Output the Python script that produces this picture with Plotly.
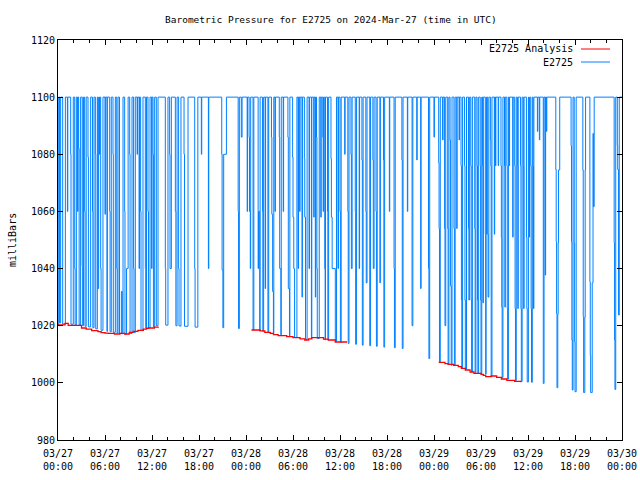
import plotly.graph_objects as go
import pandas as pd

# ---------------- data (hours after 2024-03-27 00:00 UTC, millibars) ----------------
analysis_hours = [0.0, 0.9, 1.3, 3.0, 3.6, 4.3, 5.1, 5.5, 6.0, 6.4, 7.2, 7.9, 8.5, 9.1, 9.6, 10.2, 10.9, 11.3, 11.5, 12.3, 12.8,
                  None,
                  24.7, 25.8, 26.4, 27.1, 27.5, 28.1, 29.2, 30.0, 30.9, 31.5, 32.0, 32.4, 33.9, 34.5, 35.4, 36.9,
                  None,
                  48.6, 49.4, 49.8, 50.5, 51.1, 51.5, 52.0, 52.6, 53.1, 54.0, 54.3, 54.6, 55.3, 56.0, 56.6, 57.3, 58.3, 59.1, 60.7]
analysis_mb = [1020.3, 1020.8, 1020.1, 1019.2, 1018.8, 1018.3, 1017.9, 1017.6, 1017.4, 1017.3, 1017.1, 1017.3, 1017.1, 1017.7, 1018.0,
               1018.4, 1018.8, 1019.1, 1019.2, 1019.5, 1019.6,
               None,
               1018.5, 1018.2, 1017.7, 1017.3, 1016.9, 1016.5, 1016.2, 1015.8, 1015.4, 1015.0, 1015.4, 1015.8, 1015.3, 1015.0, 1014.3, 1014.3,
               None,
               1007.2, 1006.7, 1006.5, 1006.1, 1005.7, 1005.1, 1004.5, 1003.8, 1003.3, 1003.0, 1002.6, 1002.2, 1002.4, 1001.9, 1001.35,
               1000.9, 1000.5, 1000.2]

# station series, as (hour, value) steps
blue_day1_am = [
    (0.00, 1020.4), (0.09, 1100), (0.20, 1021.0), (0.34, 1100), (0.60, 1020.6), (0.94, 1100),
    (1.20, 1060), (1.25, 1100), (1.62, 1080), (1.66, 1020.5), (1.95, 1100),
    (2.13, 1040), (2.18, 1020.3), (2.34, 1100), (2.50, 1060), (2.55, 1100), (2.64, 1082), (2.70, 1020.2), (2.89, 1100),
    (3.10, 1041), (3.15, 1020.0), (3.25, 1100), (3.40, 1060), (3.45, 1019.8), (3.60, 1100), (3.83, 1079), (3.88, 1019.6),
    (4.17, 1100), (4.40, 1060), (4.45, 1019.3), (4.60, 1100), (4.77, 1080), (4.82, 1018.9), (5.02, 1100), (5.10, 1033),
    (5.19, 1100), (5.30, 1080), (5.35, 1100), (5.45, 1040), (5.50, 1018.4), (5.74, 1100), (6.00, 1059), (6.05, 1100),
    (6.25, 1018.0), (6.30, 1100), (6.60, 1060), (6.65, 1017.9), (6.80, 1100), (7.02, 1080), (7.06, 1017.7), (7.32, 1100),
    (7.50, 1040), (7.55, 1017.4), (7.66, 1100), (7.85, 1017.3), (8.09, 1032), (8.20, 1017.2), (8.30, 1100),
    (8.51, 1060), (8.55, 1017.1), (8.75, 1040), (8.95, 1100), (9.15, 1080), (9.20, 1017.3), (9.45, 1100), (9.65, 1040),
    (9.70, 1017.6), (9.87, 1100), (10.10, 1080), (10.15, 1100), (10.35, 1040), (10.40, 1100), (10.55, 1060),
    (10.60, 1018.4), (10.85, 1100), (11.15, 1040), (11.20, 1019.0), (11.30, 1100), (11.49, 1060), (11.55, 1019.2),
    (11.75, 1100), (11.95, 1040), (12.00, 1100), (12.13, 1080), (12.18, 1019.6), (12.34, 1100), (12.55, 1020.0),
    (12.77, 1100),
]
blue_day1_pm = [
    (13.70, 1040), (13.75, 1020.2), (14.04, 1100), (14.25, 1080), (14.30, 1040), (14.47, 1100), (14.98, 1060),
    (15.05, 1020.0), (15.20, 1100), (15.40, 1040), (15.45, 1019.9), (15.70, 1100), (16.09, 1080), (16.15, 1019.8), (16.60, 1100),
    (17.45, 1040), (17.50, 1019.5), (17.85, 1100), (18.30, 1080), (18.35, 1100), (19.20, 1040),
    (19.25, 1100), (20.90, 1080), (20.95, 1039.5), (21.05, 1019.3), (21.15, 1080), (21.50, 1100),
    (23.00, 1060), (23.05, 1019.0), (23.15, 1100), (23.40, 1086), (23.50, 1100),
]
blue_day2_am = [
    (24.15, 1060), (24.20, 1100),
    (24.40, 1086), (24.45, 1060), (24.55, 1040), (24.60, 1100), (24.90, 1018.5), (25.00, 1100), (25.55, 1040),
    (25.60, 1060), (25.75, 1018.2), (25.80, 1100), (26.10, 1060), (26.15, 1018.0), (26.25, 1100),
    (26.45, 1033), (26.50, 1100), (26.80, 1017.7), (26.90, 1100),
    (27.25, 1086), (27.30, 1059), (27.40, 1032), (27.50, 1017.3), (27.55, 1100), (27.70, 1060), (27.75, 1100),
    (28.25, 1086), (28.30, 1040), (28.45, 1016.8), (28.50, 1100), (28.75, 1060), (28.80, 1100), (29.35, 1086),
    (29.40, 1033), (29.55, 1016.3), (29.60, 1100), (29.95, 1079), (30.00, 1058), (30.10, 1040), (30.20, 1015.9),
    (30.50, 1100), (30.65, 1040), (30.70, 1100), (30.85, 1060), (30.90, 1100), (31.15, 1030), (31.20, 1100),
    (31.45, 1078.5), (31.50, 1058),
    (31.60, 1015.2), (31.80, 1100), (32.05, 1040), (32.10, 1100), (32.35, 1015.5), (32.40, 1100), (32.65, 1058),
    (32.70, 1100), (32.85, 1030), (32.90, 1100), (33.00, 1086), (33.05, 1040), (33.10, 1015.5), (33.35, 1100),
    (33.55, 1058), (33.60, 1100), (33.80, 1086), (33.85, 1060), (33.90, 1100),
    (34.05, 1040), (34.10, 1015.0), (34.15, 1100), (34.40, 1060), (34.45, 1015.0), (34.55, 1100),
    (34.85, 1078.5), (34.90, 1058), (35.00, 1040), (35.40, 1014.5),
    (35.55, 1100), (35.75, 1040), (35.80, 1100), (36.00, 1060), (36.05, 1014.2), (36.15, 1100), (36.60, 1080), (36.65, 1100),
]
blue_day2_pm = [
    (37.00, 1060), (37.05, 1013.8), (37.15, 1100), (37.40, 1080), (37.45, 1040), (37.55, 1100), (37.95, 1060),
    (38.00, 1013.5), (38.10, 1100), (38.45, 1040), (38.50, 1100), (38.80, 1078), (38.85, 1013.2), (38.95, 1100),
    (39.30, 1060), (39.35, 1035), (39.45, 1100), (39.80, 1013.0), (39.90, 1100), (40.20, 1078), (40.25, 1040),
    (40.35, 1100), (40.60, 1060), (40.65, 1012.8), (40.75, 1100), (41.10, 1035), (41.15, 1100), (41.55, 1078),
    (41.60, 1012.5), (41.70, 1100), (42.30, 1060), (42.35, 1100), (42.90, 1040), (42.95, 1012.3), (43.05, 1100),
    (43.90, 1078), (43.95, 1012.0), (44.05, 1100), (44.60, 1060), (44.65, 1100), (45.20, 1020), (45.30, 1100),
    (45.80, 1078), (45.85, 1100), (46.30, 1033), (46.35, 1100), (47.30, 1040), (47.35, 1008.5), (47.45, 1100),
    (48.00, 1086), (48.05, 1100),
]
blue_day3_am = [
    (48.60, 1077), (48.65, 1054), (48.70, 1007.2), (48.80, 1100), (49.10, 1085), (49.15, 1100),
    (49.35, 1054), (49.40, 1020), (49.50, 1100),
    (49.75, 1054), (49.80, 1006.5), (49.90, 1100), (50.05, 1085), (50.10, 1034), (50.20, 1006.2), (50.30, 1100),
    (50.55, 1054), (50.60, 1006.0), (50.70, 1100),
    (50.90, 1054), (50.95, 1100), (51.20, 1085), (51.25, 1100), (51.45, 1076), (51.50, 1029), (51.55, 1005.2),
    (51.65, 1100), (51.90, 1076), (51.95, 1029), (52.00, 1004.8), (52.15, 1100), (52.40, 1054), (52.45, 1029),
    (52.55, 1100), (52.70, 1076), (52.75, 1029), (52.80, 1003.8), (52.90, 1100), (53.20, 1054), (53.25, 1003.6),
    (53.35, 1100), (53.50, 1076), (53.55, 1029),
    (53.60, 1003.4), (53.70, 1100), (53.90, 1076), (53.95, 1029), (54.00, 1003.2), (54.10, 1100), (54.20, 1076),
    (54.25, 1028), (54.30, 1100), (54.55, 1052), (54.60, 1003.0), (54.65, 1052), (54.70, 1100), (54.85, 1052),
    (54.90, 1030), (55.00, 1100), (55.20, 1085), (55.25, 1076), (55.30, 1002.3), (55.40, 1100), (55.70, 1052),
    (55.75, 1100), (55.85, 1076), (55.90, 1100), (56.20, 1076), (56.25, 1100),
    (56.55, 1076), (56.60, 1051), (56.65, 1026.5), (56.70, 1001.8),
    (56.80, 1100), (57.00, 1076), (57.05, 1026.5), (57.10, 1100), (57.30, 1076), (57.35, 1026), (57.40, 1001.3),
    (57.50, 1100), (57.60, 1076), (57.65, 1100), (58.05, 1051), (58.10, 1100),
    (58.30, 1076), (58.35, 1026), (58.40, 1000.8), (58.50, 1100),
    (58.65, 1076), (58.70, 1026), (58.75, 1100), (59.05, 1076), (59.10, 1026), (59.15, 1000.5), (59.25, 1100),
    (59.40, 1076), (59.45, 1026), (59.50, 1100), (59.80, 1051), (59.85, 1026), (59.90, 1000.3), (60.05, 1100),
    (60.10, 1085), (60.15, 1051), (60.20, 1100), (60.35, 1076), (60.40, 1026), (60.45, 1000.2), (60.55, 1100),
    (60.65, 1076), (60.70, 1026), (60.75, 1100),
]
blue_day3_pm = [
    (61.20, 1088), (61.25, 1100), (61.45, 1085), (61.50, 1100), (61.95, 999.8), (62.05, 1100), (62.20, 1037.7),
    (62.25, 1100), (62.35, 1088), (62.40, 1100), (63.55, 1074.7), (63.60, 1049.4), (63.65, 1024.3), (63.70, 998.3),
    (63.80, 1024), (63.85, 1049), (63.90, 1074.5), (64.05, 1100), (65.50, 1083), (65.55, 1049.4), (65.60, 1015),
    (65.65, 997.5), (65.75, 1100), (65.90, 1049), (65.95, 1014.4), (66.00, 996.9), (66.15, 1100), (67.00, 1074.5),
    (67.05, 1023.2), (67.10, 996.6), (67.25, 1023), (67.30, 1074.5), (67.35, 1100), (67.90, 1035.4), (67.95, 1009.7),
    (68.00, 996.6), (68.20, 1035), (68.30, 1087.3), (68.35, 1061.7), (68.45, 1100), (71.00, 1049), (71.05, 1015),
    (71.10, 997.7), (71.20, 1100), (71.40, 1083.25), (71.45, 1074.7), (71.55, 1023.75), (71.65, 1100), (72.00, 1100),
]

tick_hours = [0, 6, 12, 18, 24, 30, 36, 42, 48, 54, 60, 66, 72]
tick_labels = ["03/27<br>00:00", "03/27<br>06:00", "03/27<br>12:00", "03/27<br>18:00",
               "03/28<br>00:00", "03/28<br>06:00", "03/28<br>12:00", "03/28<br>18:00",
               "03/29<br>00:00", "03/29<br>06:00", "03/29<br>12:00", "03/29<br>18:00",
               "03/30<br>00:00"]
y_ticks = [980, 1000, 1020, 1040, 1060, 1080, 1100, 1120]

# ---------------- build ----------------
T0 = pd.Timestamp("2024-03-27 00:00")


def to_time(h):
    return None if h is None else T0 + pd.Timedelta(hours=h)


blue_all = blue_day1_am + blue_day1_pm + blue_day2_am + blue_day2_pm + blue_day3_am + blue_day3_pm
blue_x = [to_time(h) for h, _ in blue_all]
blue_y = [v for _, v in blue_all]

red_x = [to_time(h) for h in analysis_hours]

BLUE = "#0080ff"
RED = "#ff0000"
FONT = "DejaVu Sans Mono"

fig = go.Figure()
fig.add_trace(go.Scatter(x=blue_x, y=blue_y, mode="lines", line=dict(color=BLUE, width=1, shape="hv"),
                         name="E2725", showlegend=False))
fig.add_trace(go.Scatter(x=red_x, y=analysis_mb, mode="lines", line=dict(color=RED, width=1.3, shape="hv"),
                         name="E2725 Analysis", showlegend=False, connectgaps=False))

W, H = 640, 480
L, R, T, B = 58, 18, 40, 40


def px(x):
    return (x - L) / (W - L - R)


def py(y):
    return (H - B - y) / (H - T - B)


fig.update_layout(
    width=W, height=H, autosize=False,
    margin=dict(l=L, r=R, t=T, b=B, pad=0, autoexpand=False),
    paper_bgcolor="white", plot_bgcolor="white",
    font=dict(family=FONT, size=10, color="black"),
    showlegend=False,
)
fig.update_xaxes(
    type="date",
    range=[to_time(0), to_time(72)],
    tickvals=[to_time(h) for h in tick_hours], ticktext=tick_labels,
    ticks="inside", ticklen=5, tickcolor="black", tickwidth=1,
    minor=dict(dtick=2 * 3600 * 1000, ticks="inside", ticklen=3, tickcolor="black", tickwidth=1),
    showline=True, linecolor="black", linewidth=1, mirror="ticks",
    showgrid=False, zeroline=False, automargin=False, ticklabelstandoff=4,
    tickfont=dict(family=FONT, size=10),
)
fig.update_yaxes(
    range=[980, 1120],
    tickvals=y_ticks,
    ticks="inside", ticklen=5, tickcolor="black", tickwidth=1,
    showline=True, linecolor="black", linewidth=1, mirror="ticks",
    showgrid=False, zeroline=False, automargin=False,
    tickfont=dict(family=FONT, size=10),
)

annotations = [
    dict(text="Barometric Pressure for E2725 on 2024-Mar-27 (time in UTC)", x=px(331), y=py(19),
         xref="paper", yref="paper", showarrow=False, xanchor="center", yanchor="middle",
         font=dict(family=FONT, size=9.5)),
    dict(text="milliBars", x=px(12), y=0.5, xref="paper", yref="paper", showarrow=False,
         textangle=-90, xanchor="center", yanchor="middle", font=dict(family=FONT, size=10)),
    dict(text="E2725 Analysis", x=px(575), y=py(49), xref="paper", yref="paper", showarrow=False,
         xanchor="right", yanchor="middle", font=dict(family=FONT, size=10)),
    dict(text="E2725", x=px(575), y=py(62), xref="paper", yref="paper", showarrow=False,
         xanchor="right", yanchor="middle", font=dict(family=FONT, size=10)),
]
shapes = [
    dict(type="line", xref="paper", yref="paper", x0=px(581), x1=px(610), y0=py(49), y1=py(49),
         line=dict(color=RED, width=1)),
    dict(type="line", xref="paper", yref="paper", x0=px(581), x1=px(610), y0=py(62), y1=py(62),
         line=dict(color=BLUE, width=1)),
]
fig.update_layout(annotations=annotations, shapes=shapes)

fig.write_html("out.html", config={"responsive": False, "displayModeBar": False},
               post_script="document.body.style.margin='0';document.body.style.overflow='hidden';")
